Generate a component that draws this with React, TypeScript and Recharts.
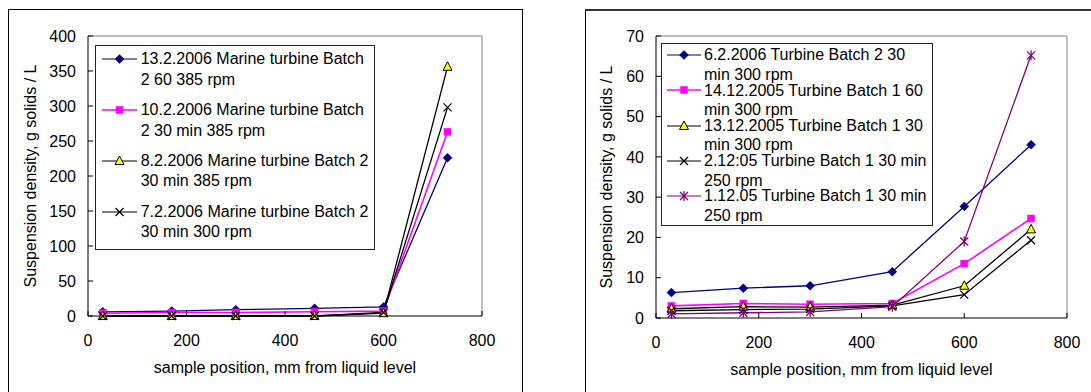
import React from "react";
import { LineChart, Line, XAxis, YAxis, ReferenceLine, Legend } from "recharts";

const FONT = "'Liberation Sans', Arial, Helvetica, sans-serif";

// ---------- data ----------
const positions = [30, 170, 300, 460, 600, 730];

// left chart (marine turbine)
const marine13 = [6, 7, 9, 11, 13, 226];
const marine10 = [4, 5, 5, 6, 7, 263];
const marine8 = [0, 0, 0, 0, 4, 356];
const marine7 = [0, 0, 0, 0, 5, 298];

// right chart (turbine)
const turb6 = [6.3, 7.4, 8.0, 11.5, 27.7, 43.0];
const turb14 = [3.0, 3.6, 3.4, 3.6, 13.5, 24.7];
const turb13 = [2.3, 2.8, 2.7, 3.2, 8.0, 22.0];
const turb2 = [1.8, 2.1, 2.2, 3.0, 5.8, 19.3];
const turb1 = [1.0, 1.3, 1.5, 2.8, 19.0, 65.2];

const xTicks = [0, 200, 400, 600, 800];
const leftYTicks = [0, 50, 100, 150, 200, 250, 300, 350, 400];
const rightYTicks = [0, 10, 20, 30, 40, 50, 60, 70];

const xTitle = "sample position, mm from liquid level";
const yTitle = "Suspension density, g solids / L";

type Shape = "diamond" | "square" | "triangle" | "cross" | "star";

interface Series {
  key: string;
  label: string[];
  values: number[];
  color: string;
  shape: Shape;
}

const leftSeries: Series[] = [
  { key: "m13", label: ["13.2.2006 Marine turbine Batch", "2 60 385 rpm"], values: marine13, color: "#000080", shape: "diamond" },
  { key: "m10", label: ["10.2.2006 Marine turbine Batch", "2 30 min 385 rpm"], values: marine10, color: "#FF00FF", shape: "square" },
  { key: "m8", label: ["8.2.2006 Marine turbine Batch 2", "30 min 385 rpm"], values: marine8, color: "#000000", shape: "triangle" },
  { key: "m7", label: ["7.2.2006 Marine turbine Batch 2", "30 min 300 rpm"], values: marine7, color: "#000000", shape: "cross" },
];

const rightSeries: Series[] = [
  { key: "t6", label: ["6.2.2006 Turbine Batch 2 30", "min 300 rpm"], values: turb6, color: "#000080", shape: "diamond" },
  { key: "t14", label: ["14.12.2005 Turbine Batch 1 60", "min 300 rpm"], values: turb14, color: "#FF00FF", shape: "square" },
  { key: "t13", label: ["13.12.2005 Turbine Batch 1 30", "min 300 rpm"], values: turb13, color: "#000000", shape: "triangle" },
  { key: "t2", label: ["2.12:05 Turbine Batch 1 30 min", "250 rpm"], values: turb2, color: "#000000", shape: "cross" },
  { key: "t1", label: ["1.12.05 Turbine Batch 1 30 min", "250 rpm"], values: turb1, color: "#800080", shape: "star" },
];

function buildRows(series: Series[]) {
  return positions.map((x, i) => {
    const row: Record<string, number> = { x };
    series.forEach((s) => {
      row[s.key] = s.values[i];
    });
    return row;
  });
}

// ---------- markers ----------
function Marker({ cx, cy, shape, color }: { cx: number; cy: number; shape: Shape; color: string }) {
  switch (shape) {
    case "diamond":
      return (
        <polygon
          points={`${cx},${cy - 4.5} ${cx + 4.5},${cy} ${cx},${cy + 4.5} ${cx - 4.5},${cy}`}
          fill={color}
          stroke={color}
          strokeWidth={0.5}
        />
      );
    case "square":
      return <rect x={cx - 3.5} y={cy - 3.5} width={7} height={7} fill={color} stroke={color} strokeWidth={0.5} />;
    case "triangle":
      return (
        <polygon
          points={`${cx},${cy - 5} ${cx + 4.5},${cy + 3.5} ${cx - 4.5},${cy + 3.5}`}
          fill="#FFFF00"
          stroke="#000"
          strokeWidth={1}
        />
      );
    case "cross":
      return (
        <g stroke={color} strokeWidth={1.2}>
          <line x1={cx - 4} y1={cy - 4} x2={cx + 4} y2={cy + 4} />
          <line x1={cx - 4} y1={cy + 4} x2={cx + 4} y2={cy - 4} />
        </g>
      );
    case "star":
      return (
        <g stroke={color} strokeWidth={1.3}>
          <line x1={cx - 4} y1={cy - 4} x2={cx + 4} y2={cy + 4} />
          <line x1={cx - 4} y1={cy + 4} x2={cx + 4} y2={cy - 4} />
          <line x1={cx} y1={cy - 5} x2={cx} y2={cy + 5} />
        </g>
      );
  }
  return null;
}

function makeDot(s: Series) {
  return (props: any) => {
    const { cx, cy, index } = props;
    if (cx == null || cy == null) return <g key={`${s.key}-${index}`} />;
    return (
      <g key={`${s.key}-${index}`}>
        <Marker cx={cx} cy={cy} shape={s.shape} color={s.color} />
      </g>
    );
  };
}

// ---------- legend ----------
interface LegendLayout {
  width: number;
  height: number;
  firstTop: number;
  step: number;
  lineHeight: number;
  textLeft: number;
  sampleLeft: number;
  sampleRight: number;
  capCenter: number;
}

function LegendBox({ series, layout }: { series: Series[]; layout: LegendLayout }) {
  return (
    <div
      style={{
        position: "relative",
        width: layout.width,
        height: layout.height,
        boxSizing: "border-box",
        border: "1px solid #222",
        background: "#fff",
        fontFamily: FONT,
        fontSize: 16,
        color: "#000",
      }}
    >
      {series.map((s, i) => {
        const top = layout.firstTop + i * layout.step;
        const cy = layout.capCenter;
        const mid = (layout.sampleLeft + layout.sampleRight) / 2;
        return (
          <div key={s.key} style={{ position: "absolute", left: 0, top, width: layout.width - 2 }}>
            <svg
              width={layout.sampleRight + 4}
              height={20}
              style={{ position: "absolute", left: 0, top: cy - 10, overflow: "visible" }}
            >
              <line
                x1={layout.sampleLeft}
                y1={10}
                x2={layout.sampleRight}
                y2={10}
                stroke={s.color}
                strokeWidth={s.shape === "square" ? 1.6 : 1.2}
              />
              <Marker cx={mid} cy={10} shape={s.shape} color={s.color} />
            </svg>
            <div
              style={{
                position: "absolute",
                left: layout.textLeft,
                top: 0,
                whiteSpace: "nowrap",
                lineHeight: `${layout.lineHeight}px`,
              }}
            >
              {s.label.map((l, j) => (
                <div key={j}>{l}</div>
              ))}
            </div>
          </div>
        );
      })}
    </div>
  );
}

// ---------- chart panel ----------
interface PanelProps {
  series: Series[];
  yMax: number;
  yTicks: number[];
  chartLeft: number;
  width: number;
  yAxisWidth: number;
  marginRight: number;
  xAxisHeight: number;
  legendLeft: number;
  legendTop: number;
  legendLayout: LegendLayout;
}

const tickStyle = { fill: "#000", fontSize: 16, fontFamily: FONT };

function Panel(p: PanelProps) {
  const rows = buildRows(p.series);
  return (
    <div style={{ position: "absolute", left: p.chartLeft, top: 0 }}>
      <LineChart
        width={p.width}
        height={392}
        data={rows}
        margin={{ top: 36, right: p.marginRight, bottom: 0, left: 0 }}
      >
        <XAxis
          dataKey="x"
          type="number"
          domain={[0, 800]}
          ticks={xTicks}
          height={p.xAxisHeight}
          axisLine={{ stroke: "#000", strokeWidth: 1 }}
          tickLine={{ stroke: "#000" }}
          tickSize={-5}
          tickMargin={24}
          tick={tickStyle}
          interval={0}
        />
        <YAxis
          type="number"
          domain={[0, p.yMax]}
          ticks={p.yTicks}
          width={p.yAxisWidth}
          axisLine={{ stroke: "#000", strokeWidth: 1 }}
          tickLine={{ stroke: "#000" }}
          tickSize={-5}
          tickMargin={17}
          tick={tickStyle}
          interval={0}
        />
        <ReferenceLine y={p.yMax} stroke="#808080" strokeWidth={1} />
        <ReferenceLine x={800} stroke="#808080" strokeWidth={1} />
        <Legend
          layout="vertical"
          align="center"
          verticalAlign="middle"
          wrapperStyle={{ left: p.legendLeft, top: p.legendTop, width: p.legendLayout.width, height: p.legendLayout.height }}
          content={() => <LegendBox series={p.series} layout={p.legendLayout} />}
        />
        {p.series.map((s) => (
          <Line
            key={s.key}
            dataKey={s.key}
            name={s.label.join(" ")}
            type="linear"
            stroke={s.color}
            strokeWidth={s.shape === "square" ? 1.6 : 1.3}
            dot={makeDot(s)}
            activeDot={false}
            isAnimationActive={false}
          />
        ))}
      </LineChart>
    </div>
  );
}

const titleBase: React.CSSProperties = {
  position: "absolute",
  fontFamily: FONT,
  fontSize: 16,
  color: "#000",
  whiteSpace: "nowrap",
  lineHeight: "18px",
};

export default function App() {
  return (
    <div
      style={{
        position: "absolute",
        left: 0,
        top: 0,
        width: 1091,
        height: 392,
        overflow: "hidden",
        background: "#fff",
      }}
    >
      {/* chart frames */}
      <div
        style={{
          position: "absolute",
          left: 8,
          top: 9,
          width: 515,
          height: 420,
          boxSizing: "border-box",
          border: "1px solid #000",
        }}
      />
      <div
        style={{
          position: "absolute",
          left: 585,
          top: 9,
          width: 600,
          height: 420,
          boxSizing: "border-box",
          borderLeft: "1px solid #000",
          borderTop: "2px solid #333",
        }}
      />

      <Panel
        series={leftSeries}
        yMax={400}
        yTicks={leftYTicks}
        chartLeft={0}
        width={530}
        yAxisWidth={88}
        marginRight={48}
        xAxisHeight={76}
        legendLeft={95}
        legendTop={45}
        legendLayout={{
          width: 280,
          height: 205,
          firstTop: 3.2,
          step: 50.8,
          lineHeight: 20.5,
          textLeft: 44.7,
          sampleLeft: 6,
          sampleRight: 41,
          capCenter: 10.1,
        }}
      />
      <Panel
        series={rightSeries}
        yMax={70}
        yTicks={rightYTicks}
        chartLeft={560}
        width={531}
        yAxisWidth={96}
        marginRight={24}
        xAxisHeight={74}
        legendLeft={101}
        legendTop={43}
        legendLayout={{
          width: 272,
          height: 183,
          firstTop: 1.4,
          step: 35.25,
          lineHeight: 19.5,
          textLeft: 42,
          sampleLeft: 5,
          sampleRight: 39,
          capCenter: 9.6,
        }}
      />

      {/* axis titles */}
      <div style={{ ...titleBase, left: 285, top: 368, transform: "translate(-50%, -50%)" }}>{xTitle}</div>
      <div style={{ ...titleBase, left: 861.5, top: 370, transform: "translate(-50%, -50%)" }}>{xTitle}</div>
      <div style={{ ...titleBase, left: 31, top: 176, transform: "translate(-50%, -50%) rotate(-90deg)" }}>{yTitle}</div>
      <div style={{ ...titleBase, left: 607, top: 177, transform: "translate(-50%, -50%) rotate(-90deg)" }}>{yTitle}</div>
    </div>
  );
}
